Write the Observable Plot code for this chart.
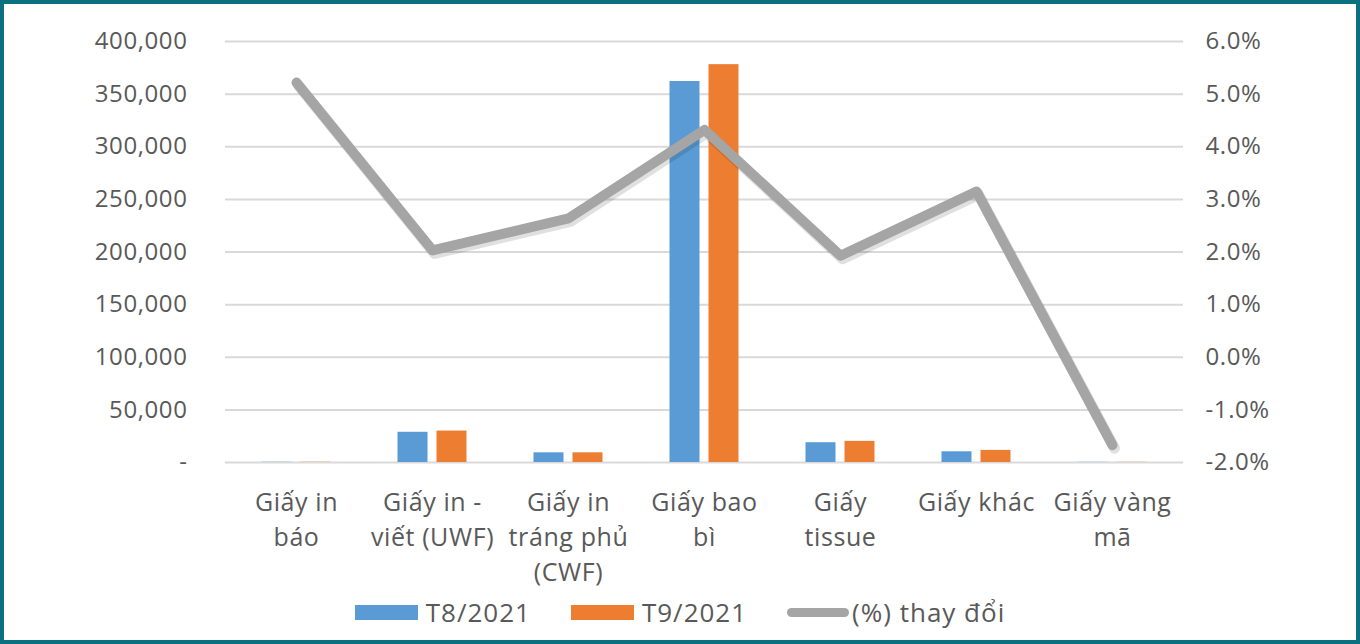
<!DOCTYPE html>
<html>
<head>
<meta charset="utf-8">
<script src="https://cdn.jsdelivr.net/npm/d3@7"></script>
<script src="https://cdn.jsdelivr.net/npm/@observablehq/plot@0.6"></script>
<style>
  html, body { margin: 0; padding: 0; background: #fff; }
  #wrap { position: relative; width: 1360px; height: 644px; overflow: hidden; background: #fff; font-family: "Open Sans", sans-serif; }
  #frame { position: absolute; left: 0; top: 0; width: 1360px; height: 644px; box-sizing: border-box; border: 4px solid #0b7080; pointer-events: none; }
  #chart { position: absolute; left: 0; top: 0; }
  #legend { position: absolute; left: 0; top: 594px; width: 1360px; display: flex; justify-content: center; align-items: center; font-size: 26px; color: #595959; letter-spacing: 1px; }
  .item { display: flex; align-items: center; margin: 0 20px; }
  .sw { width: 63px; height: 15px; margin-right: 8px; }
  .ln { width: 62px; height: 9px; border-radius: 5px; background: #a5a5a5; margin-right: 3px; }
</style>
</head>
<body>
<div id="wrap">
  <div id="chart"></div>
  <div id="legend"></div>
  <div id="frame"></div>
</div>
<script>
const categories = ["Giấy in báo", "Giấy in - viết (UWF)", "Giấy in tráng phủ (CWF)", "Giấy bao bì", "Giấy tissue", "Giấy khác", "Giấy vàng mã"];
const categoryLabels = ["Giấy in\nbáo", "Giấy in -\nviết (UWF)", "Giấy in\ntráng phủ\n(CWF)", "Giấy bao\nbì", "Giấy\ntissue", "Giấy khác", "Giấy vàng\nmã"];
const t8 = [200, 28700, 9200, 362000, 18800, 10200, 150];
const t9 = [210, 29900, 9200, 378000, 20100, 11500, 140];
const pctChange = [5.22, 2.03, 2.64, 4.32, 1.93, 3.15, -1.67];
const leftTicks = [0, 50000, 100000, 150000, 200000, 250000, 300000, 350000, 400000];
const rightTickLabels = ["-2.0%", "-1.0%", "0.0%", "1.0%", "2.0%", "3.0%", "4.0%", "5.0%", "6.0%"];
const seriesNames = ["T8/2021", "T9/2021", "(%) thay đổi"];
const colors = ["#5b9bd5", "#ed7d31", "#a5a5a5"];

const rows = categories.map((c, i) => ({cat: c, label: categoryLabels[i], t8: t8[i], t9: t9[i], pct: pctChange[i]}));
// right axis maps -2%..6% onto 0..400,000
const pctToY = p => (p + 2) * 50000;

const chart = Plot.plot({
  width: 1360,
  height: 590,
  marginLeft: 225,
  marginRight: 177,
  marginTop: 41,
  marginBottom: 128,
  style: {fontFamily: "Open Sans, sans-serif", color: "#595959", background: "transparent", letterSpacing: "0.6px"},
  x: {domain: categories, padding: 0, axis: null},
  y: {domain: [0, 400000], axis: null},
  marks: [
    Plot.ruleY(leftTicks, {stroke: "#d9d9d9", strokeWidth: 2}),
    Plot.axisY({anchor: "left", ticks: leftTicks, tickSize: 0, tickPadding: 38, fontSize: 24, label: null,
      tickFormat: d => d === 0 ? "-" : d3.format(",")(d)}),
    Plot.axisY({anchor: "right", ticks: leftTicks, tickSize: 0, tickPadding: 22, fontSize: 24, label: null,
      tickFormat: d => rightTickLabels[leftTicks.indexOf(d)]}),
    Plot.axisX({domain: categories, tickSize: 0, tickPadding: 24, fontSize: 25, lineHeight: 1.4, label: null,
      tickFormat: c => categoryLabels[categories.indexOf(c)]}),
    Plot.barY(rows, {x: "cat", y: "t8", fill: colors[0], insetLeft: 33.5, insetRight: 72.5}),
    Plot.barY(rows, {x: "cat", y: "t9", fill: colors[1], insetLeft: 72.5, insetRight: 33.5}),
    Plot.line(rows, {x: "cat", y: d => pctToY(d.pct), stroke: "#000", strokeOpacity: 0.12, strokeWidth: 11, dx: 2, dy: 3, strokeLinecap: "round", strokeLinejoin: "round"}),
    Plot.line(rows, {x: "cat", y: d => pctToY(d.pct), stroke: colors[2], strokeWidth: 10, strokeLinecap: "round", strokeLinejoin: "round"})
  ]
});
document.getElementById("chart").appendChild(chart);

const legend = document.getElementById("legend");
seriesNames.forEach((name, i) => {
  const item = document.createElement("div");
  item.className = "item";
  const sw = document.createElement("div");
  sw.className = i < 2 ? "sw" : "ln";
  if (i < 2) sw.style.background = colors[i];
  const tx = document.createElement("span");
  tx.textContent = name;
  item.appendChild(sw); item.appendChild(tx);
  legend.appendChild(item);
});
</script>
</body>
</html>
